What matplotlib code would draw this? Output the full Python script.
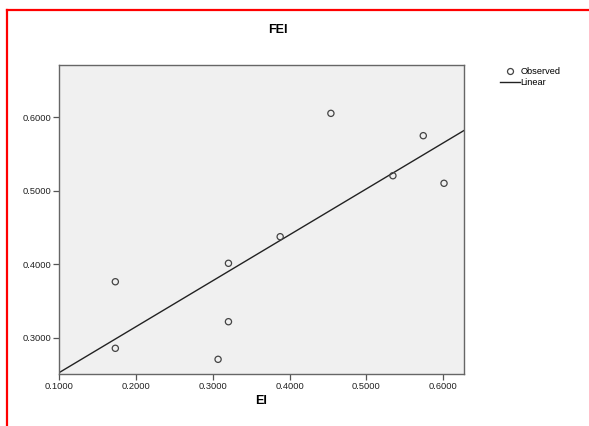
import numpy as np
import matplotlib
matplotlib.use('Agg')
import matplotlib.pyplot as plt
from matplotlib.lines import Line2D

plt.rcParams['font.family'] = ['Liberation Sans', 'DejaVu Sans']

# du lieu doc tu hinh
ei = [0.1733, 0.1733, 0.3205, 0.3205, 0.3070, 0.3878, 0.4538, 0.5740, 0.5345, 0.6010]
fei = [0.3762, 0.2856, 0.4013, 0.3218, 0.2706, 0.4375, 0.6054, 0.5750, 0.5205, 0.5102]
xticks = [0.1, 0.2, 0.3, 0.4, 0.5, 0.6]
yticks = [0.3, 0.4, 0.5, 0.6]

W, H = 589, 426
fig = plt.figure(figsize=(W / 100, H / 100), dpi=100)
fig.patch.set_facecolor('white')

ax = fig.add_axes([59 / W, 1 - 373.5 / H, (464 - 59) / W, (373.5 - 65.3) / H])
ax.set_facecolor('#f0f0f0')

# duong hoi quy tuyen tinh
b, a = np.polyfit(ei, fei, 1)
xl = np.array([0.1, 0.627])
ax.plot(xl, a + b * xl, color='#222222', lw=1.0, label='Linear', zorder=2)
ax.scatter(ei, fei, s=20, facecolors='none', edgecolors='#444444', linewidths=0.9,
           label='Observed', zorder=3)

ax.set_xlim(0.1, 0.627)
ax.set_ylim(0.2513, 0.6708)
ax.set_xticks(xticks)
ax.set_yticks(yticks)
ax.set_xticklabels(['%.4f' % v for v in xticks])
ax.set_yticklabels(['%.4f' % v for v in yticks])
ax.tick_params(direction='out', length=4.3, width=0.9, color='#555555',
               labelsize=6.7, pad=1.5, labelcolor='#222222')
for s in ax.spines.values():
    s.set_color('#666666')
    s.set_linewidth(1.0)

ax.set_xlabel('EI', fontsize=9, fontweight='bold', labelpad=3)
fig.text(278 / W, 1 - 30 / H, 'FEI', ha='center', va='center', fontsize=9, fontweight='bold')

handles = [Line2D([], [], ls='none', marker='o', mfc='none', mec='#444444', ms=4.3, mew=0.9),
           Line2D([], [], color='#222222', lw=1.0)]
fig.legend(handles, ['Observed', 'Linear'], loc='upper left',
           bbox_to_anchor=(500 / W, 1 - 67 / H), frameon=False, fontsize=6.7,
           handlelength=2.1, handletextpad=0.1, borderpad=0, borderaxespad=0,
           labelspacing=0.25)

# khung do
fig.add_artist(Line2D([6.5 / W, 1.0], [1 - 9.5 / H, 1 - 9.5 / H], color='red', lw=1.6,
                      transform=fig.transFigure))
fig.add_artist(Line2D([6.5 / W, 6.5 / W], [0.0, 1 - 9.5 / H], color='red', lw=1.6,
                      transform=fig.transFigure))

fig.savefig('out.png', dpi=100)
